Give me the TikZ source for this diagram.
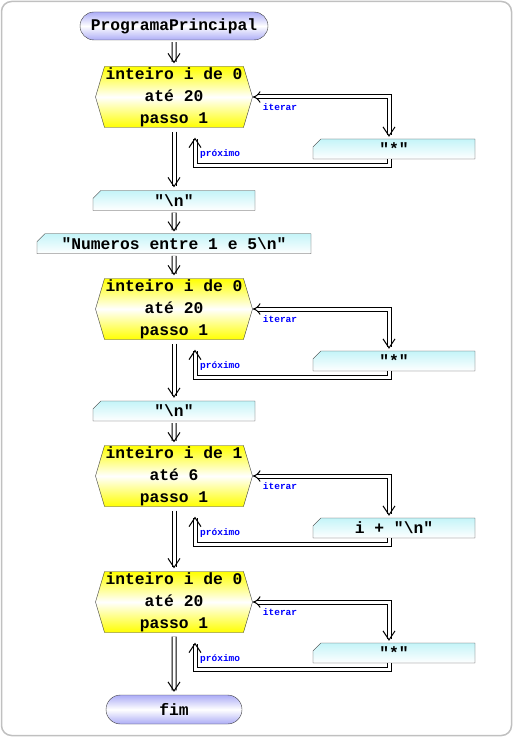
\documentclass[tikz,border=0pt]{standalone}
\usepackage{fontspec}
\setmonofont{Liberation Mono}
\usetikzlibrary{arrows.meta,shapes.misc,shapes.symbols,positioning}

\definecolor{lavanda}{RGB}{172,172,246}
\definecolor{ciano}{RGB}{196,244,248}
\definecolor{borda}{RGB}{60,60,60}
\definecolor{moldura}{RGB}{192,192,192}

\tikzset{
  codigo/.style={font=\ttfamily\bfseries\fontsize{16.3}{22}\selectfont, align=center},
  terminal/.style={codigo, rounded rectangle, draw=borda, top color=lavanda, bottom color=lavanda, middle color=white, minimum height=28pt, inner sep=0pt},
  para/.style={codigo, signal, signal to=east and west, signal pointer angle=147, draw=borda, top color=yellow, bottom color=yellow, middle color=white, minimum width=157pt, minimum height=61pt, inner sep=0pt},
  escreva/.style={codigo, chamfered rectangle, chamfered rectangle corners=north west, chamfered rectangle xsep=5pt, draw=borda, top color=ciano, bottom color=white, minimum height=20pt, inner sep=0pt},
  fluxo/.style={double=white, double distance=3pt, line width=1pt, draw=black, -{Straight Barb[length=9pt, width=12pt, line width=1pt]}},
  rotulo/.style={font=\ttfamily\bfseries\fontsize{9.5}{10}\selectfont, text=blue, inner sep=0pt}
}

\begin{document}
\begin{tikzpicture}[x=1pt, y=-1pt]
  \useasboundingbox (0,0) rectangle (514,738);
  \draw[moldura, line width=1.5pt, rounded corners=10pt] (1.5,1.5) rectangle (511.5,735.5);

  % blocos principais
  \node[terminal, minimum width=188pt] (inicio) at (174,26) {ProgramaPrincipal};
  \node[para] (para1) at (174,97) {inteiro i de 0\\até 20\\passo 1};
  \node[escreva, minimum width=162pt] (esc1) at (394,149) {"*"};
  \node[escreva, minimum width=162pt] (nl1) at (174,200.5) {"\textbackslash n"};
  \node[escreva, minimum width=274pt] (msg) at (174,243.7) {"Numeros entre 1 e 5\textbackslash n"};
  \node[para] (para2) at (174,309) {inteiro i de 0\\até 20\\passo 1};
  \node[escreva, minimum width=162pt] (esc2) at (394,361) {"*"};
  \node[escreva, minimum width=162pt] (nl2) at (174,411) {"\textbackslash n"};
  \node[para] (para3) at (174,476) {inteiro i de 1\\até 6\\passo 1};
  \node[escreva, minimum width=162pt] (esc3) at (394,528) {i + "\textbackslash n"};
  \node[para] (para4) at (174,602) {inteiro i de 0\\até 20\\passo 1};
  \node[escreva, minimum width=162pt] (esc4) at (394,653) {"*"};
  \node[terminal, minimum width=136pt, minimum height=29pt] (fim) at (174,709.5) {fim};

  % fluxo principal
  \draw[fluxo, shorten <=2pt, shorten >=3pt] (inicio) -- (para1);
  \draw[fluxo, shorten <=4pt, shorten >=3pt] (para1.south) -- (nl1.north);
  \draw[fluxo, shorten <=2pt, shorten >=2pt] (nl1) -- (msg);
  \draw[fluxo, shorten <=2pt, shorten >=3pt] (msg) -- (para2);
  \draw[fluxo, shorten <=4pt, shorten >=3pt] (para2.south) -- (nl2.north);
  \draw[fluxo, shorten <=2pt, shorten >=3pt] (nl2) -- (para3);
  \draw[fluxo, shorten <=4pt, shorten >=3pt] (para3.south) -- (para4.north);
  \draw[fluxo, shorten <=4pt, shorten >=3pt] (para4.south) -- (fim);

  % lacos: iterar e proximo
  \foreach \p/\e in {para1/esc1, para2/esc2, para3/esc3, para4/esc4} {
    \draw[fluxo, {Implies[length=3pt, width=6pt]}-{Straight Barb[length=9pt, width=12pt, line width=1pt]}, shorten >=2pt] (\p.east) -| ([xshift=-5pt]\e.north);
    \draw[fluxo] ([xshift=-5pt]\e.south) -- ++(0,6) -| ([xshift=21pt,yshift=-10pt]\p.south);
    \node[rotulo, below right=6pt and 10pt of \p.east] {iterar};
    \node[rotulo, below right=22pt and 26pt of \p.south] {próximo};
  }
\end{tikzpicture}
\end{document}
